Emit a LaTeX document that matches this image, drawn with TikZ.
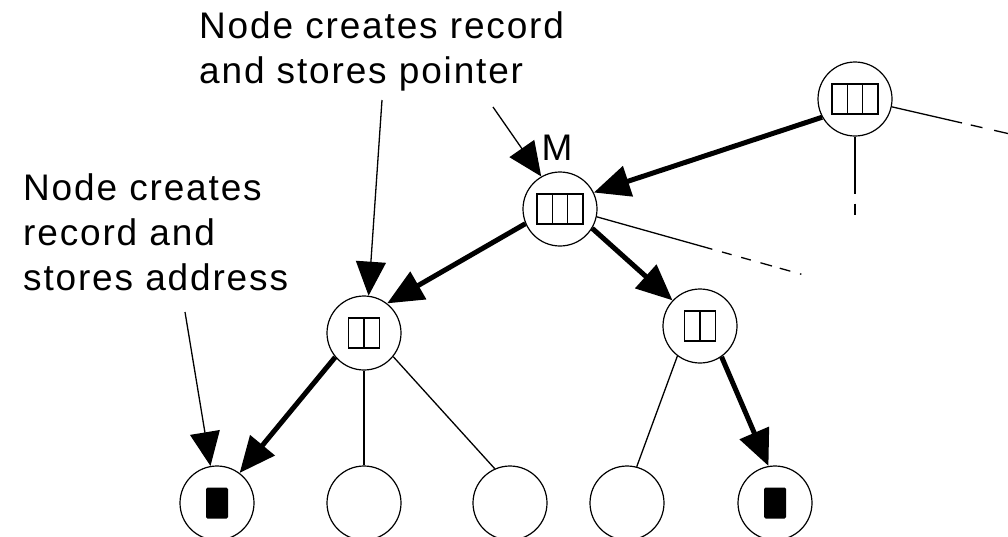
\documentclass[tikz,border=0pt]{standalone}
\usepackage{fontspec}
\setmainfont{Liberation Sans}
\usetikzlibrary{arrows.meta}
\tikzset{
  vert/.style={circle, draw, line width=1.2pt, minimum size=74pt, inner sep=0pt},
  rec/.style={vert, path picture={
    \foreach \k in {1,...,#1}
      \draw[line width=1.3pt] ([shift={(\k*15.4pt-#1*7.7pt,-15pt)}]path picture bounding box.center) -- ++(0pt,30pt);
    \draw[line width=1.3pt] ([shift={(-#1*7.7pt,-15pt)}]path picture bounding box.center) rectangle ++(#1*15.4pt,30pt);}},
  leaf/.style={vert, path picture={
    \fill[rounded corners=1.5pt] ([shift={(-11pt,-15.5pt)}]path picture bounding box.center) rectangle ++(22pt,31pt);}},
  lbl/.style={align=left, inner sep=0pt, font=\fontsize{37}{45}\selectfont\addfontfeature{LetterSpace=5}},
  link/.style={line width=1.3pt},
  carry/.style={line width=5pt, -{Triangle[length=36pt,width=31pt]}},
  note/.style={line width=1.3pt, -{Triangle[length=34pt,width=30pt]}}
}

\begin{document}
\begin{tikzpicture}[x=1pt,y=-1pt]
\useasboundingbox (0,0) rectangle (1008,536);
\node[rec=3] (tr) at (855,99) {};
\node[rec=3] (M) at (560,209) {};
\node[rec=2] (lm) at (364,333) {};
\node[rec=2] (rm) at (700,326) {};
\node[leaf] (b1) at (217,503) {};
\node[vert] (b2) at (364,503) {};
\node[vert] (b3) at (510,503) {};
\node[vert] (b4) at (627,503) {};
\node[leaf] (b5) at (775,503) {};
\node[lbl] (mlab) at (557,148) {M};
\node[lbl, anchor=north west] (noteptr) at (199,11) {Node creates record\\and stores pointer};
\node[lbl, anchor=north west] (noteadr) at (23,173) {Node creates\\record and\\stores address};
\coordinate (trend) at (855,223);
\coordinate (trout) at (1010,134);
\coordinate (mout) at (804,275);
\coordinate (ptrA) at (382,100);
\coordinate (ptrB) at (493,107);
\coordinate (adrA) at (185,312);
\draw[link, dash pattern=on 57pt off 10pt on 11pt off 9pt on 1.5pt off 20pt] (tr) -- (trend);
\draw[link, dash pattern=on 72pt off 9pt on 12pt off 12pt on 20pt] (tr.-12) -- (trout);
\draw[link, dash pattern=on 120pt off 10pt on 10pt off 10pt on 10pt off 10pt on 12pt off 8pt on 11pt off 10pt on 1.5pt off 20pt] (M.-12) -- (mout);
\draw[carry] (tr.209) -- (M.26);
\draw[carry] (M.203) -- (lm.52);
\draw[carry] (M.-31) -- (rm.137);
\draw[carry] (lm.220) -- (b1.53);
\draw[carry] (rm.-55) -- (b5.100);
\draw[link] (lm) -- (b2);
\draw[link] (lm.-39) -- (b3.114);
\draw[link] (rm.233) -- (b4.75);
\draw[note] (ptrA) -- (lm.83);
\draw[note] (ptrB) -- (M.120);
\draw[note] (adrA) -- (b1.100);
\end{tikzpicture}
\end{document}
